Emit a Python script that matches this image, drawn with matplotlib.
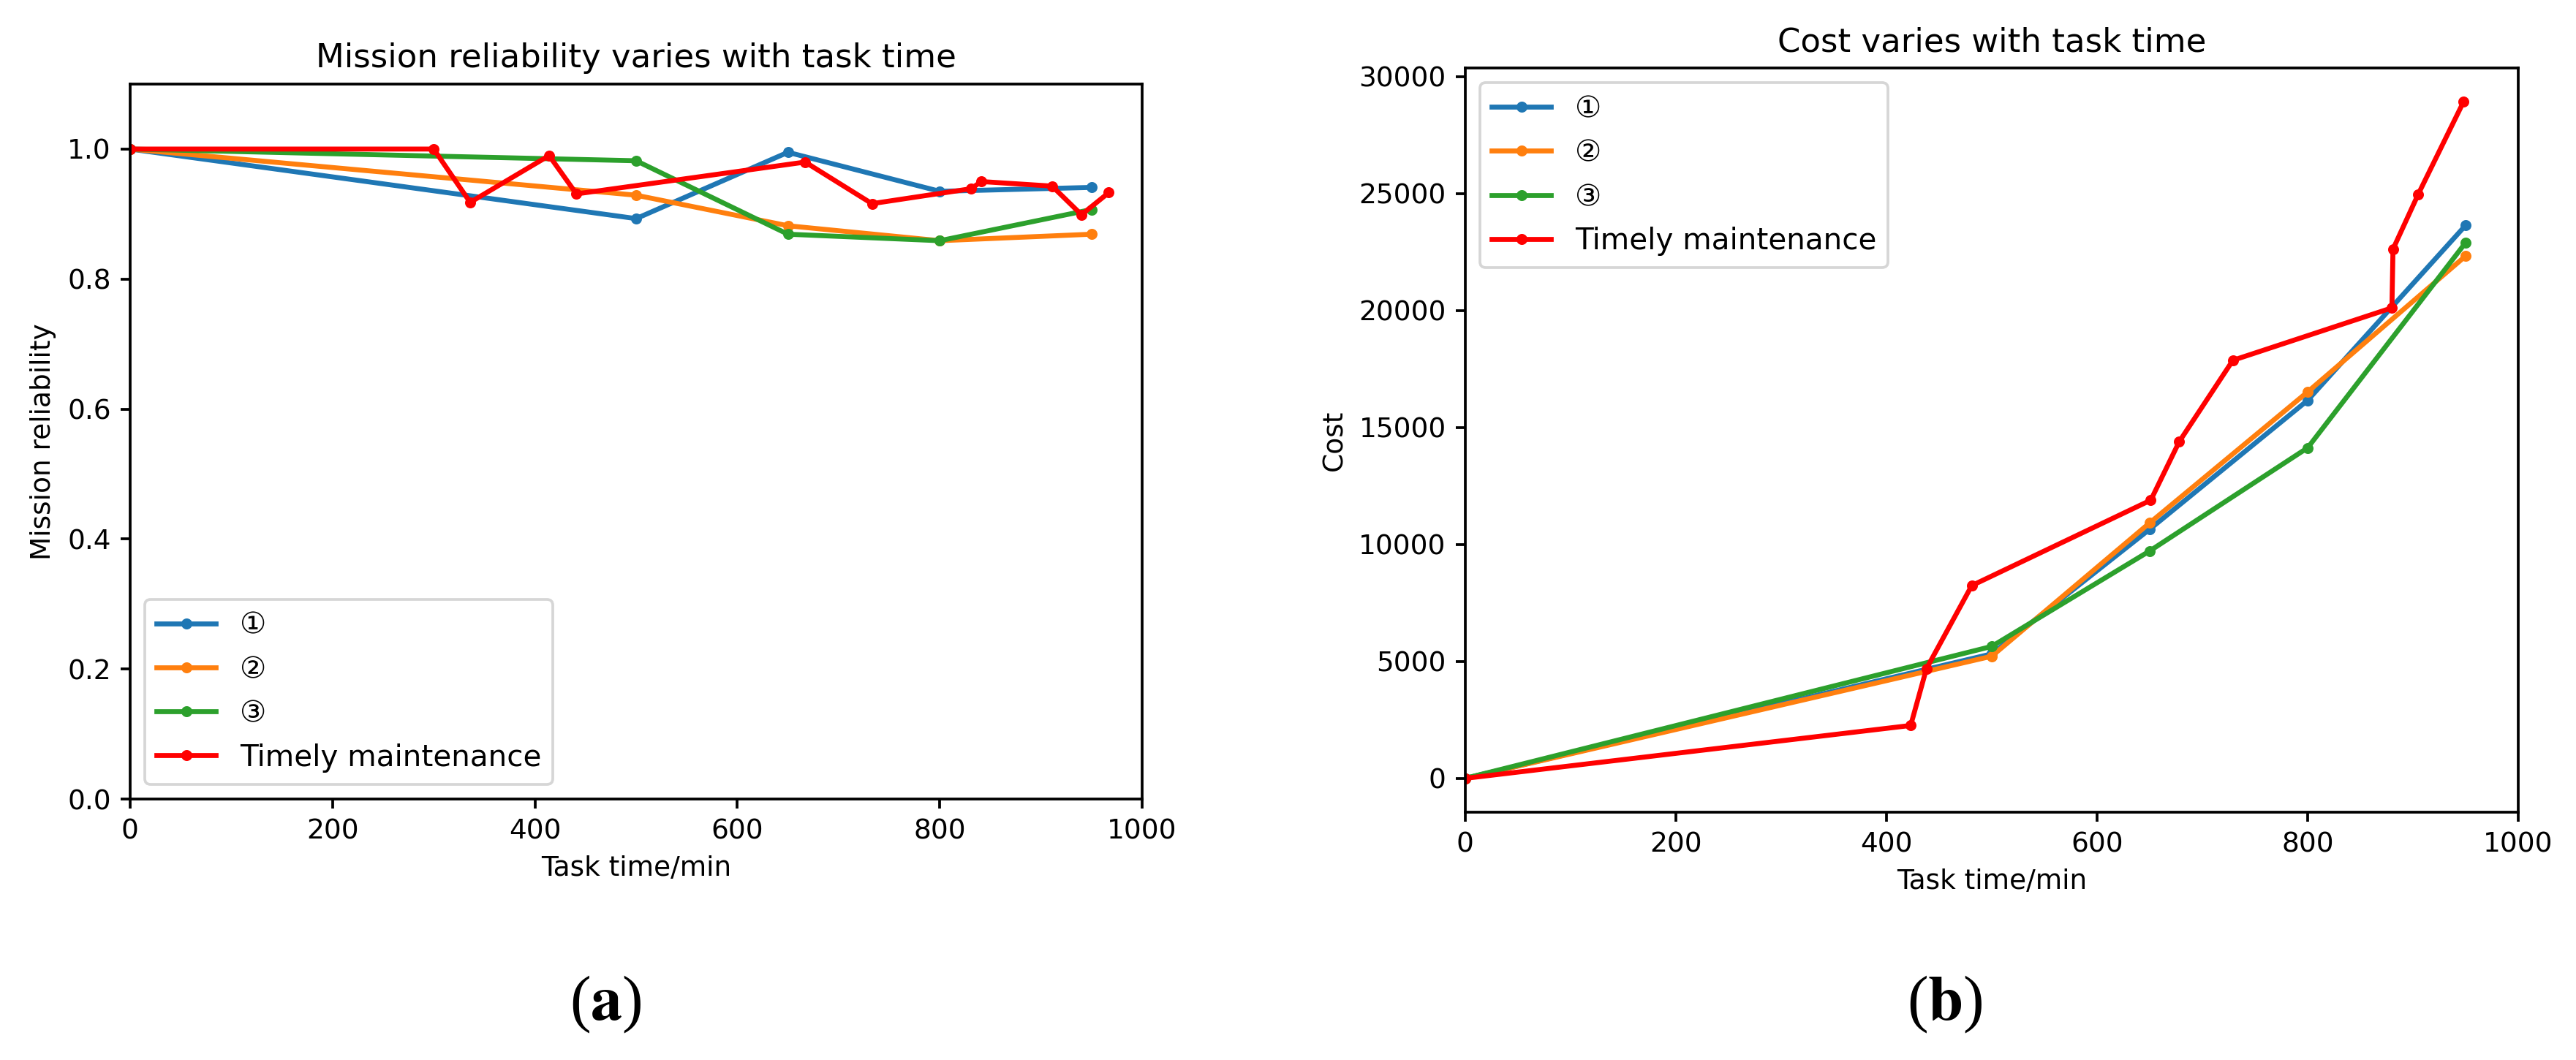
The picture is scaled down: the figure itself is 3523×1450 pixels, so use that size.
import matplotlib
matplotlib.use("Agg")
import matplotlib.pyplot as plt

plt.rcParams["font.family"] = ["DejaVu Sans", "Noto Sans CJK SC"]
plt.rcParams["mathtext.fontset"] = "stix"
plt.rcParams["lines.linewidth"] = 1.8
plt.rcParams["axes.linewidth"] = 1.0
plt.rcParams["xtick.major.width"] = 1.0
plt.rcParams["ytick.major.width"] = 1.0

labels = ["①", "②", "③", "Timely maintenance"]
colors = ["#1f77b4", "#ff7f0e", "#2ca02c", "red"]

# (a) mission reliability
rel_t = [0, 500, 650, 800, 950]
rel_1 = [1.0, 0.893, 0.995, 0.935, 0.941]
rel_2 = [1.0, 0.929, 0.882, 0.859, 0.869]
rel_3 = [1.0, 0.982, 0.869, 0.859, 0.907]
rel_tm_t = [0, 300, 336, 414, 441, 667, 733, 831, 841, 911, 940, 967]
rel_tm = [1.0, 1.0, 0.918, 0.990, 0.931, 0.980, 0.916, 0.939, 0.950, 0.943, 0.899, 0.933]

# (b) cost
cost_t = [0, 500, 650, 800, 950]
cost_1 = [0, 5320, 10650, 16160, 23640]
cost_2 = [0, 5220, 10920, 16520, 22330]
cost_3 = [0, 5640, 9720, 14130, 22900]
cost_tm_t = [0, 423, 438, 481, 651, 678, 729, 880, 881, 905, 948]
cost_tm = [0, 2260, 4690, 8240, 11890, 14390, 17870, 20110, 22620, 24970, 28920]

fig = plt.figure(figsize=(3523 / 270, 1450 / 270), dpi=270)
ax1 = fig.add_axes([0.0505, 0.2462, 0.3929, 0.6745])
ax2 = fig.add_axes([0.5688, 0.2338, 0.4088, 0.7021])

for ys, c, lab in zip([rel_1, rel_2, rel_3], colors[:3], labels[:3]):
    ax1.plot(rel_t, ys, marker=".", color=c, label=lab)
ax1.plot(rel_tm_t, rel_tm, marker=".", color=colors[3], label=labels[3])
ax1.set_xlim(0, 1000)
ax1.set_ylim(0, 1.1)
ax1.set_xlabel("Task time/min")
ax1.set_ylabel("Mission reliability")
ax1.set_title("Mission reliability varies with task time")
ax1.legend(loc="lower left", fontsize=10.8)

for ys, c, lab in zip([cost_1, cost_2, cost_3], colors[:3], labels[:3]):
    ax2.plot(cost_t, ys, marker=".", color=c, label=lab)
ax2.plot(cost_tm_t, cost_tm, marker=".", color=colors[3], label=labels[3])
ax2.set_xlim(0, 1000)
ax2.set_xlabel("Task time/min")
ax2.set_ylabel("Cost")
ax2.set_title("Cost varies with task time")
ax2.legend(loc="upper left", fontsize=10.8)

for x, letter in [(0.235, "a"), (0.755, "b")]:
    fig.text(x, 0.052, "(" + r"$\mathbf{" + letter + "}$" + ")", ha="center", va="center",
             fontsize=23, family="Liberation Serif")

fig.savefig("out.png", dpi=270)
